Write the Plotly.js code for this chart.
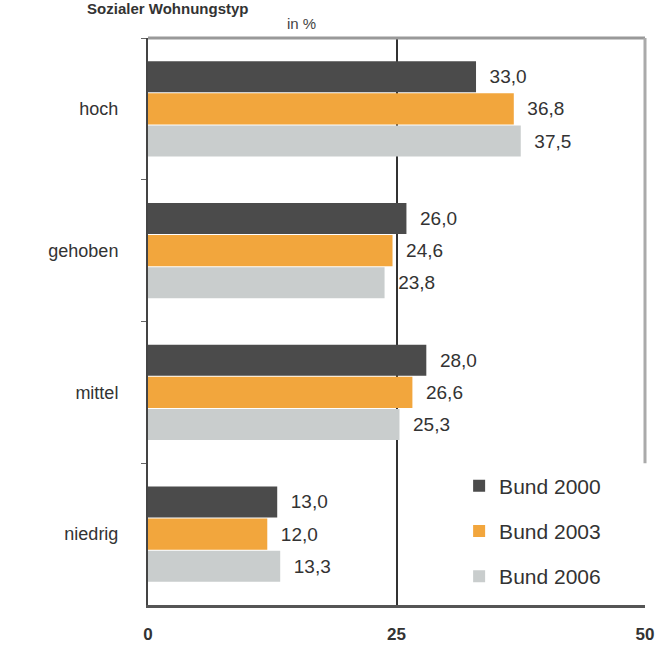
<!DOCTYPE html>
<html>
<head>
<meta charset="utf-8">
<script src="https://cdn.plot.ly/plotly-3.0.1.min.js"></script>
<style>html,body{margin:0;padding:0;background:#fff}#chart{width:670px;height:646px}</style>
</head>
<body>
<div id="chart"></div>
<script>
const categories = ["hoch", "gehoben", "mittel", "niedrig"];
const seriesNames = ["Bund 2000", "Bund 2003", "Bund 2006"];
const bund2000 = [33.0, 26.0, 28.0, 13.0];
const bund2003 = [36.8, 24.6, 26.6, 12.0];
const bund2006 = [37.5, 23.8, 25.3, 13.3];
const xTicks = [0, 25, 50];
const titleText = "Sozialer Wohnungstyp";
const unitText = "in %";

const colors = ["#4b4b4b", "#f2a63d", "#c9cdcd"];
const values = [bund2000, bund2003, bund2006];

const traces = values.map((v, i) => ({
  type: "bar",
  orientation: "h",
  name: seriesNames[i],
  y: categories,
  x: v,
  marker: {color: colors[i], line: {width: 0}},
  texttemplate: "\u00a0\u00a0%{x:.1f}",
  textposition: "outside",
  cliponaxis: false,
  textfont: {family: "Liberation Sans, Arial, sans-serif", size: 19, color: "#333"},
  legendgroup: "g" + i,
  hoverinfo: "skip"
}));

const layout = {
  width: 670, height: 646,
  margin: {l: 148, r: 25, t: 38, b: 41},
  paper_bgcolor: "#fff", plot_bgcolor: "#fff",
  separators: ",.",
  barmode: "group",
  bargap: 0.32,
  bargroupgap: 0.03,
  font: {family: "Liberation Sans, Arial, sans-serif", color: "#333"},
  title: {
    text: "<b>" + titleText + "</b>",
    x: 0.13, xanchor: "left",
    y: 0.995, yanchor: "top", yref: "container",
    pad: {t: 0, b: 0},
    font: {size: 15, color: "#333"}
  },
  annotations: [{
    text: unitText, xref: "paper", yref: "paper",
    x: 0.275, y: 1.0, yanchor: "middle", yshift: 15, showarrow: false,
    font: {size: 15, color: "#444"}
  }],
  xaxis: {
    range: [0, 50], tickvals: xTicks, ticktext: xTicks.map(t => "<b>" + t + "</b>"),
    showgrid: true, gridcolor: "#333", gridwidth: 2,
    zeroline: false,
    showline: true, linecolor: "#555", linewidth: 3,
    ticks: "", ticklabelstandoff: 12,
    tickfont: {size: 17, color: "#333"},
    fixedrange: true
  },
  yaxis: {
    categoryorder: "array", categoryarray: categories,
    autorange: "reversed",
    showline: true, linecolor: "#444", linewidth: 2,
    ticks: "outside", tickson: "boundaries", ticklen: 5, tickcolor: "#666",
    ticklabelstandoff: 24,
    tickfont: {size: 18, color: "#333"},
    showgrid: false, zeroline: false,
    fixedrange: true
  },
  shapes: [
    {type: "line", xref: "paper", yref: "paper", x0: 0, x1: 1, y0: 1, y1: 1, line: {color: "#999", width: 3}},
    {type: "line", xref: "paper", yref: "paper", x0: 1, x1: 1, y0: 1, y1: 0.25, line: {color: "#aaa", width: 3}}
  ],
  legend: {
    x: 0.626, xanchor: "left", y: 0.246, yanchor: "top",
    bgcolor: "#fff", borderwidth: 0,
    traceorder: "grouped", tracegroupgap: 15,
    font: {size: 21, color: "#333"},
    itemwidth: 30
  },
  showlegend: true
};

Plotly.newPlot("chart", traces, layout, {displayModeBar: false, staticPlot: true});
</script>
</body>
</html>
